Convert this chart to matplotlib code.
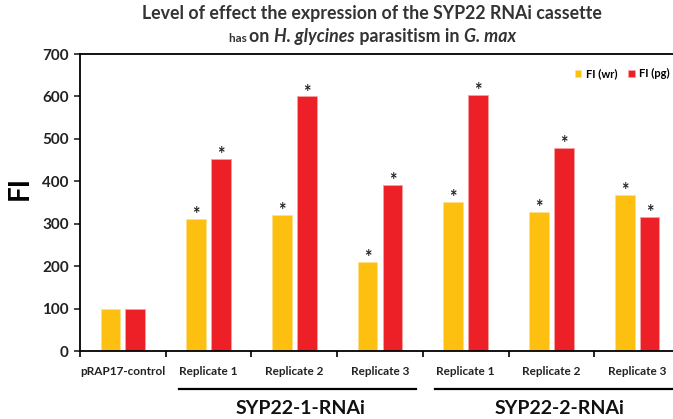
import numpy as np
import matplotlib
matplotlib.use('Agg')
import matplotlib.pyplot as plt
import matplotlib.transforms as mtransforms

plt.rcParams['font.family'] = ['Lato', 'DejaVu Sans']

categories = ['pRAP17-control', 'Replicate 1', 'Replicate 2', 'Replicate 3',
              'Replicate 1', 'Replicate 2', 'Replicate 3']
fi_wr = [100, 311, 320, 210, 351, 328, 367]
fi_pg = [100, 453, 600, 392, 603, 478, 317]
signif = [False, True, True, True, True, True, True]
groups = ['SYP22-1-RNAi', 'SYP22-2-RNAi']
series_names = ['FI (wr)', 'FI (pg)']

c_wr = '#FDC010'
c_pg = '#EE2027'

fig = plt.figure(figsize=(6.73, 4.19), dpi=100)
ax = fig.add_axes([80 / 673, 68 / 419, 600 / 673, 297 / 419])

x = np.arange(len(categories))
w = 0.23
off = 0.145
ax.bar(x - off, fi_wr, w, color=c_wr, edgecolor='#FFE08A', linewidth=0.6, label=series_names[0])
ax.bar(x + off, fi_pg, w, color=c_pg, edgecolor='#F7A0A0', linewidth=0.6, label=series_names[1])

# significance stars
for i in range(len(x)):
    if signif[i]:
        for xx, h in ((x[i] - off, fi_wr[i]), (x[i] + off, fi_pg[i])):
            ax.annotate('*', xy=(xx, h), xytext=(0, -3), textcoords='offset points',
                        ha='center', va='bottom', fontsize=13, fontweight='bold', color='#222222')

ax.set_xlim(-0.5, 6.5)
ax.set_ylim(0, 700)
ax.set_yticks(range(0, 701, 100))
ax.tick_params(axis='y', labelsize=11, width=1.2, length=4, pad=4, direction='out', colors='#222222')
for lab in ax.get_yticklabels():
    lab.set_fontweight('bold')

ax.set_xticks(np.arange(-0.5, 6.6, 1.0))
ax.set_xticklabels([])
ax.tick_params(axis='x', which='major', width=1.2, length=4, direction='out')
ax.set_xticks(x, minor=True)
ax.set_xticklabels(categories, minor=True, fontsize=8.5, fontweight='bold', color='#222222')
ax.tick_params(axis='x', which='minor', length=0, pad=11)

for s in ['left', 'bottom', 'top']:
    ax.spines[s].set_linewidth(1.3)
ax.spines['right'].set_visible(False)

ax.set_ylabel('FI', fontsize=20, fontweight='bold')
ax.yaxis.set_label_coords(-0.078, 0.55)

# group bars and labels below the axis
trans = mtransforms.blended_transform_factory(ax.transData, ax.transAxes)
for (x0, x1) in [(0.655, 3.42), (3.64, 6.7)]:
    ax.plot([x0, x1], [-0.128, -0.128], color='black', lw=1.6, transform=trans, clip_on=False)
for xc, g in zip([2.07, 5.1], groups):
    ax.text(xc, -0.195, g, transform=trans, ha='center', va='center', fontsize=14, fontweight='bold',
            color='#111111')

ax.legend(loc='upper right', bbox_to_anchor=(1.0, 0.985), ncol=2, frameon=False,
          handlelength=0.6, handleheight=0.6, columnspacing=1.0, handletextpad=0.4,
          prop={'weight': 'bold', 'size': 8})

fig.text(0.553, 0.955, 'Level of effect the expression of the SYP22 RNAi cassette',
         ha='center', va='baseline', fontsize=12.8, fontweight='bold', color='#333333')

# second title line, pieces laid one after another on a common baseline
pieces = [('has ', 8.5, 'normal'), ('on ', 12.8, 'normal'), ('H. glycines', 12.8, 'italic'),
          (' parasitism in ', 12.8, 'normal'), ('G. max', 12.8, 'italic')]
renderer = fig.canvas.get_renderer()
ybase = 0.899
texts = []
widths = []
for txt, fs, st in pieces:
    t = fig.text(0, ybase, txt, ha='left', va='baseline', fontsize=fs, fontweight='bold',
                 fontstyle=st, color='#333333')
    texts.append(t)
    widths.append(t.get_window_extent(renderer=renderer).width / fig.bbox.width)
xpos = 0.553 - sum(widths) / 2
for t, wd in zip(texts, widths):
    t.set_x(xpos)
    xpos += wd

fig.savefig('out.png', dpi=100)
